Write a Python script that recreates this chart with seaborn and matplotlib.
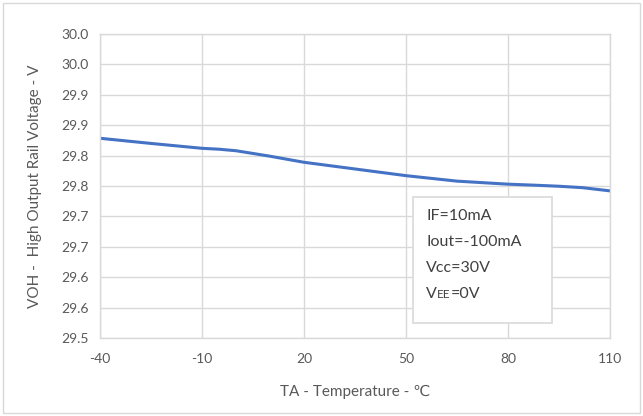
import matplotlib
matplotlib.use("Agg")
import matplotlib.pyplot as plt
import seaborn as sns
import pandas as pd
from matplotlib.patches import Rectangle

temps = [-40, -25, -10, -5, 0, 5, 10, 20, 35, 50, 65, 80, 88, 95, 102, 110]
voh = [29.8285, 29.820, 29.812, 29.8105, 29.808, 29.8035, 29.799, 29.789, 29.778, 29.767,
       29.758, 29.753, 29.7513, 29.7496, 29.7472, 29.7420]
x_ticks = [-40, -10, 20, 50, 80, 110]
y_ticks = [29.50, 29.55, 29.60, 29.65, 29.70, 29.75, 29.80, 29.85, 29.90, 29.95, 30.00]
y_tick_labels = ["29.5", "29.6", "29.6", "29.7", "29.7", "29.8", "29.8", "29.9", "29.9", "30.0", "30.0"]
notes = ["IF=10mA", "Iout=-100mA", "Vcc=30V"]

sns.set_style("white")
plt.rcParams['font.family'] = ['Lato', 'DejaVu Sans']

W, H = 643, 416
fig = plt.figure(figsize=(W / 100, H / 100), dpi=100)
ax = fig.add_axes([100 / W, 1 - 338 / H, 510 / W, 304 / H])

df = pd.DataFrame({"T": temps, "V": voh})
sns.lineplot(data=df, x="T", y="V", ax=ax, color="#4472C4", linewidth=2.2)

ax.set_xlim(-40, 110)
ax.set_ylim(29.5, 30.0)
ax.set_xticks(x_ticks)
ax.set_xticklabels([str(t) for t in x_ticks])
ax.set_yticks(y_ticks)
ax.set_yticklabels(y_tick_labels)
ax.grid(True, color="#D9D9D9", linewidth=1.0)
ax.set_axisbelow(True)
for s in ax.spines.values():
    s.set_color("#D9D9D9")
    s.set_linewidth(1.0)
ax.tick_params(axis="both", length=0, labelsize=10, colors="#595959", pad=8)
ax.tick_params(axis="x", pad=11)
ax.set_xlabel("TA - Temperature - \u2103", fontsize=11, color="#595959", labelpad=14)
ax.set_ylabel("VOH -  High Output Rail Voltage - V", fontsize=11, color="#595959", labelpad=14)

# annotation box
bx0, by0, bx1, by1 = 413, 197, 552, 323
fig.patches.append(Rectangle((bx0 / W, 1 - by1 / H), (bx1 - bx0) / W, (by1 - by0) / H,
                             transform=fig.transFigure, facecolor="white",
                             edgecolor="#D9D9D9", linewidth=1.2, zorder=5))
line_y = [216, 242, 268]
for t, yy in zip(notes, line_y):
    fig.text(426 / W, 1 - yy / H, t, fontsize=11.5, color="#404040", va="center", ha="left", zorder=6)

r = fig.canvas.get_renderer()
yb = 1 - 298 / H
t1 = fig.text(426 / W, yb, "V", fontsize=11.5, color="#404040", va="baseline", ha="left", zorder=6)
fig.canvas.draw()
e1 = t1.get_window_extent(r)
t2 = fig.text(e1.x1 / W, yb, "EE", fontsize=8.5, color="#404040", va="baseline", ha="left", zorder=6)
fig.canvas.draw()
e2 = t2.get_window_extent(r)
fig.text(e2.x1 / W, yb, "=0V", fontsize=11.5, color="#404040", va="baseline", ha="left", zorder=6)

# outer border
fig.patches.append(Rectangle((3 / W, 3 / H), (W - 6) / W, (H - 6) / H, transform=fig.transFigure,
                             facecolor="none", edgecolor="#D9D9D9", linewidth=1.0))

fig.savefig("out.png", dpi=100)
